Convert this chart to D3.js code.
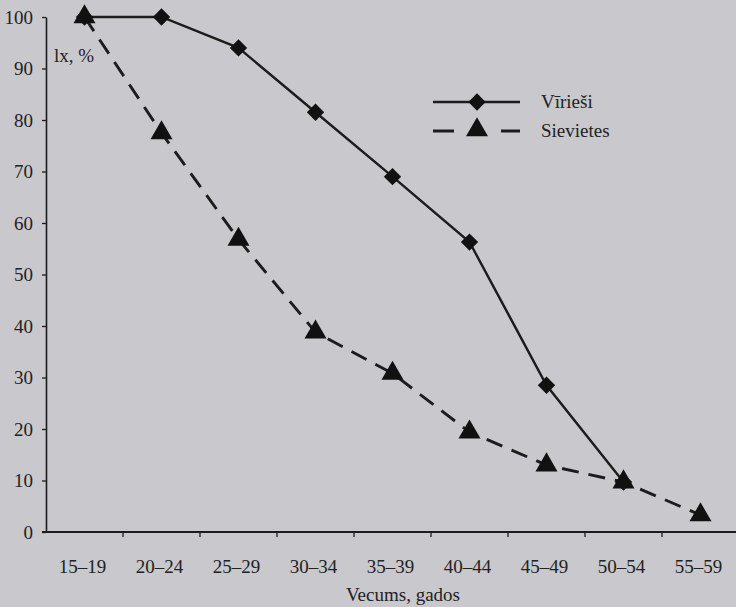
<!DOCTYPE html>
<html><head><meta charset="utf-8">
<script src="https://cdn.jsdelivr.net/npm/d3@7"></script>
<style>
html,body{margin:0;padding:0;background:#c8c8cd;}
svg{display:block;}
text{font-family:"Palatino Linotype","Book Antiqua","Liberation Serif","DejaVu Serif",serif;fill:#222;}
</style></head>
<body><svg id="c" width="736" height="607"></svg>
<script>
const categories = ["15–19","20–24","25–29","30–34","35–39","40–44","45–49","50–54","55–59"];
const men = [100, 100, 94, 81.5, 69, 56.3, 28.5, 9.7, null];
const women = [100, 77.5, 56.8, 38.8, 30.8, 19.4, 13, 9.7, 3.3];
const yTicks = [0,10,20,30,40,50,60,70,80,90,100];
const seriesNames = ["Vīrieši", "Sievietes"];
const yLabel = "lx, %";
const xLabel = "Vecums, gados";

const svg = d3.select("#c");
const W = 736, H = 607;
const FS = "19px";
const FF = '"Palatino Linotype","Book Antiqua","Liberation Serif",serif';
svg.append("rect").attr("width", W).attr("height", H).attr("fill", "#c8c8cd");

const x = d3.scaleBand().domain(categories).range([46, 739]).padding(0);
const y = d3.scaleLinear().domain([0, 100]).range([532, 17]);
const cx = c => x(c) + x.bandwidth() / 2;
const ink = "#1c1c1c";

// Y axis
const yAx = svg.append("g").attr("transform", "translate(46,0)")
  .call(d3.axisLeft(y).tickValues(yTicks).tickSize(4).tickPadding(9).tickSizeOuter(0));
yAx.select(".domain").attr("stroke", ink).attr("stroke-width", 1.6);
yAx.selectAll(".tick line").attr("stroke", ink).attr("stroke-width", 1.3);
yAx.selectAll(".tick text").style("font-size", FS).attr("fill", "#222").style("font-family", FF);

// X axis
svg.append("line").attr("x1", 42).attr("x2", W).attr("y1", y(0)).attr("y2", y(0))
  .attr("stroke", ink).attr("stroke-width", 2);
const xAx = svg.append("g").attr("transform", `translate(0,${y(0)})`)
  .call(d3.axisBottom(x).tickSize(0).tickPadding(28));
xAx.select(".domain").remove();
xAx.selectAll(".tick text").style("font-size", FS).attr("fill", "#222").attr("dx", -2).style("font-family", FF);
const bounds = categories.slice(1).map(c => x(c)).concat([x(categories[categories.length - 1]) + x.bandwidth()]);
svg.selectAll(".xb").data(bounds).enter().append("line")
  .attr("x1", d => d).attr("x2", d => d)
  .attr("y1", y(0)).attr("y2", y(0) + 5).attr("stroke", ink).attr("stroke-width", 1.3);

svg.append("text").attr("x", 403).attr("y", 601).attr("text-anchor", "middle")
  .style("font-size", FS).text(xLabel);
svg.append("text").attr("x", 54).attr("y", 62).style("font-size", FS).text(yLabel);

// lines
const menPts = categories.map((c, i) => ({c, v: men[i]})).filter(d => d.v != null);
const womenPts = categories.map((c, i) => ({c, v: women[i]})).filter(d => d.v != null);
const line = d3.line().x(d => cx(d.c)).y(d => y(d.v));

svg.append("path").datum(womenPts).attr("d", line).attr("fill", "none")
  .attr("stroke", ink).attr("stroke-width", 2.9).attr("stroke-dasharray", "17,10");
svg.append("path").datum(menPts).attr("d", line).attr("fill", "none")
  .attr("stroke", ink).attr("stroke-width", 2.4);

const diamond = d3.symbol().type(d3.symbolSquare).size(150)();
const tri = d3.symbol().type(d3.symbolTriangle).size(210)();

svg.selectAll(".tw").data(womenPts).enter().append("path")
  .attr("d", tri).attr("transform", d => `translate(${cx(d.c)},${y(d.v)})`).attr("fill", "#111");
svg.selectAll(".dm").data(menPts).enter().append("path")
  .attr("d", diamond).attr("transform", d => `translate(${cx(d.c)},${y(d.v)}) rotate(45)`).attr("fill", "#111");

// legend
const lg = svg.append("g");
lg.append("line").attr("x1", 433).attr("x2", 520).attr("y1", 102).attr("y2", 102)
  .attr("stroke", ink).attr("stroke-width", 2.4);
lg.append("path").attr("d", diamond).attr("transform", "translate(477,102) rotate(45)").attr("fill", "#111");
lg.append("line").attr("x1", 433).attr("x2", 520).attr("y1", 131).attr("y2", 131)
  .attr("stroke", ink).attr("stroke-width", 2.9).attr("stroke-dasharray", "21,47,19");
lg.append("path").attr("d", tri).attr("transform", "translate(477,130)").attr("fill", "#111");
lg.append("text").attr("x", 541).attr("y", 108).style("font-size", FS).text(seriesNames[0]);
lg.append("text").attr("x", 541).attr("y", 137).style("font-size", FS).text(seriesNames[1]);
</script></body></html>
